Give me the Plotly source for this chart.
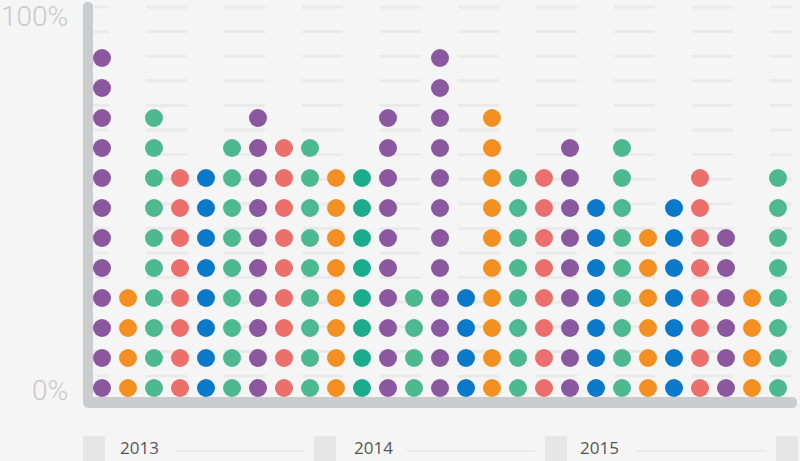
import plotly.graph_objects as go

# ---- data ----
columns = list(range(27))
counts = [12, 4, 10, 8, 8, 9, 10, 9, 9, 8, 8, 10, 4, 12, 4, 10, 8, 8, 9, 7, 9, 6, 7, 8, 6, 4, 8]
color_keys = ['purple', 'orange', 'green', 'red', 'blue', 'green', 'purple', 'red', 'green',
              'orange', 'teal', 'purple', 'green', 'purple', 'blue', 'orange', 'green', 'red',
              'purple', 'blue', 'green', 'orange', 'blue', 'red', 'purple', 'orange', 'green']
years = ['2013', '2014', '2015']
axis_labels = ['100%', '0%']

palette = {
    'purple': '#8b58a0',
    'orange': '#f39021',
    'green': '#4cb991',
    'red': '#ec6f6c',
    'blue': '#0b79c9',
    'teal': '#1aac8b',
}

W, H = 800, 461
BG = '#f5f5f5'

# pixel helpers for decoration (paper coords, margins are zero)
def px(x):
    return x / W

def py(y):
    return 1 - y / H

xs, ys, cs = [], [], []
for c, n, k in zip(columns, counts, color_keys):
    for r in range(1, n + 1):
        xs.append(c)
        ys.append(r)
        cs.append(palette[k])

fig = go.Figure()
fig.add_trace(go.Scatter(
    x=xs, y=ys, mode='markers',
    marker=dict(size=18, color=cs, line=dict(width=0)),
    hoverinfo='skip', showlegend=False,
))

shapes = []
# faint background dashes
for j in range(16):
    yy = 7 + 24.6 * j
    for k in range(-1, 9):
        x0 = 146 + 78 * k
        x1 = x0 + 41
        x0 = max(x0, 94)
        x1 = min(x1, 792)
        if x1 <= x0:
            continue
        shapes.append(dict(type='line', xref='paper', yref='paper',
                           x0=px(x0), x1=px(x1), y0=py(yy), y1=py(yy),
                           line=dict(color='#eaeaea', width=3), layer='below'))

# L-shaped axis bar
pts = [
    ('M', 83, 7), ('Q', 83, 2, 88, 2), ('Q', 93, 2, 93, 7), ('L', 93, 397),
    ('L', 792, 397), ('Q', 797, 397, 797, 402.5), ('Q', 797, 408, 792, 408),
    ('L', 89, 408), ('Q', 83, 408, 83, 402),
]
path = ''
for p in pts:
    cmd = p[0]
    coords = p[1:]
    seg = []
    for i in range(0, len(coords), 2):
        seg.append(f'{px(coords[i]):.5f},{py(coords[i+1]):.5f}')
    path += cmd + ' ' + ' '.join(seg) + ' '
path += 'Z'
shapes.append(dict(type='path', xref='paper', yref='paper', path=path,
                   fillcolor='#cbcccd', line=dict(width=0), layer='above'))

# bottom year markers
sq_x = [83, 314, 545, 776]
for x0 in sq_x:
    shapes.append(dict(type='rect', xref='paper', yref='paper',
                       x0=px(x0), x1=px(x0 + 22), y0=py(436), y1=0,
                       fillcolor='#e6e6e6', line=dict(width=0)))
line_x = [(176, 305), (406, 535), (636, 766)]
for a, b in line_x:
    shapes.append(dict(type='line', xref='paper', yref='paper',
                       x0=px(a), x1=px(b), y0=py(451), y1=py(451),
                       line=dict(color='#e4e4e4', width=1.5)))

annotations = [
    dict(text=axis_labels[0], xref='paper', yref='paper', x=px(69), y=py(16),
         xanchor='right', yanchor='middle', showarrow=False, borderpad=0,
         font=dict(family='Roboto', size=28, color='#c9c9c9', weight=300)),
    dict(text=axis_labels[1], xref='paper', yref='paper', x=px(69), y=py(390),
         xanchor='right', yanchor='middle', showarrow=False, borderpad=0,
         font=dict(family='Roboto', size=28, color='#c9c9c9', weight=300)),
]
year_x = [119, 353, 579]
for t, x0 in zip(years, year_x):
    annotations.append(dict(text=t, xref='paper', yref='paper', x=px(x0), y=py(447),
                            xanchor='left', yanchor='middle', showarrow=False, borderpad=0,
                            font=dict(family='Open Sans', size=17, color='#555555')))

# axis ranges: column i -> pixel 102 + 26 i ; row k -> pixel 388 - 30 (k-1)
xr0 = -102 / 26
xr1 = xr0 + W / 26
yr0 = 1 - 73 / 30
yr1 = yr0 + H / 30

fig.update_layout(
    width=W, height=H,
    margin=dict(l=0, r=0, t=0, b=0),
    paper_bgcolor=BG, plot_bgcolor=BG,
    xaxis=dict(range=[xr0, xr1], visible=False, fixedrange=True),
    yaxis=dict(range=[yr0, yr1], visible=False, fixedrange=True),
    shapes=shapes, annotations=annotations,
)

fig.write_html('out.html', config={'displayModeBar': False},
               post_script="document.body.style.margin='0';document.body.style.background='%s';" % BG)
